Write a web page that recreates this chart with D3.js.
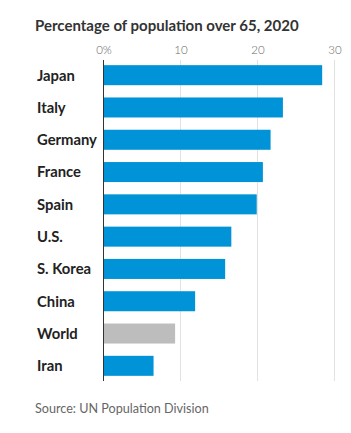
<!DOCTYPE html>
<html><head><meta charset="utf-8">
<script src="https://cdn.jsdelivr.net/npm/d3@7"></script>
<style>body{margin:0;background:#fff;}</style>
</head><body>
<script>
const countries = ["Japan","Italy","Germany","France","Spain","U.S.","S. Korea","China","World","Iran"];
const values = [28.4, 23.3, 21.7, 20.7, 19.9, 16.6, 15.8, 11.9, 9.3, 6.5];
const tickValues = [0, 10, 20, 30];
const tickLabels = ["0%", "10", "20", "30"];
const title = "Percentage of population over 65, 2020";
const source = "Source: UN Population Division";

const W = 351, H = 433;
const svg = d3.select("body").append("svg").attr("width", W).attr("height", H);
const x = d3.scaleLinear().domain([0, 30]).range([103.5, 334.5]);
const y = d3.scaleBand().domain(countries).range([60, 381]).paddingInner(0.38).paddingOuter(0.16);

svg.append("text").attr("x", 35).attr("y", 31).text(title)
  .attr("font-family", "Lato").attr("font-weight", "bold").attr("font-size", 15).attr("fill", "#333");

const grid = svg.append("g");
grid.selectAll("line").data(tickValues.filter(d => d > 0)).join("line")
  .attr("x1", d => x(d)).attr("x2", d => x(d)).attr("y1", 60).attr("y2", 381)
  .attr("stroke", "#e2e2e2").attr("stroke-width", 1);

const axis = d3.axisTop(x).tickValues(tickValues).tickFormat((d, i) => tickLabels[i]).tickSize(0).tickPadding(0);
const ag = svg.append("g").attr("transform", "translate(0,53.5)").call(axis);
ag.select(".domain").remove();
ag.selectAll("text").attr("font-family", "Lato").attr("font-weight", 300).attr("font-size", 11.5).attr("fill", "#666");

svg.append("g").selectAll("rect").data(countries).join("rect")
  .attr("x", x(0)).attr("y", d => y(d)).attr("height", y.bandwidth())
  .attr("width", (d, i) => x(values[i]) - x(0))
  .attr("fill", d => d === "World" ? "#bdbdbd" : "#0093d7");

svg.append("line").attr("x1", x(0)).attr("x2", x(0)).attr("y1", 60).attr("y2", 381)
  .attr("stroke", "#333").attr("stroke-width", 1);

svg.append("g").selectAll("text").data(countries).join("text")
  .attr("x", 37).attr("y", d => y(d) + y.bandwidth() / 2).attr("dy", "0.36em").text(d => d)
  .attr("font-family", "Lato").attr("font-weight", "bold").attr("font-size", 14.8).attr("fill", "#222");

svg.append("text").attr("x", 35).attr("y", 413).text(source)
  .attr("font-family", "Lato").attr("font-size", 12.6).attr("fill", "#666");
</script>
</body></html>
